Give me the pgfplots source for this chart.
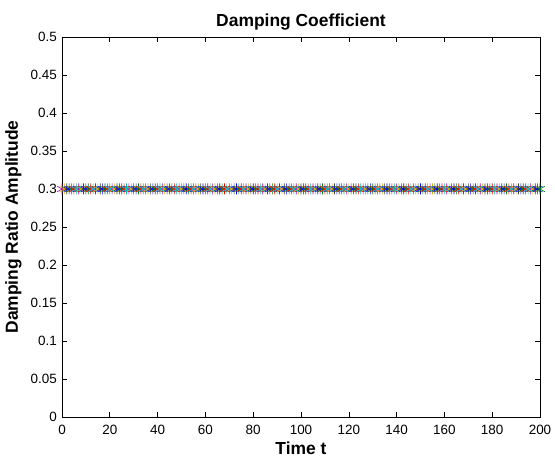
\documentclass[border=0pt]{standalone}
\usepackage{fontspec}
\setmainfont{Liberation Sans}
\usepackage{pgfplots}
\pgfplotsset{compat=1.18}

\definecolor{mb}{rgb}{0,0,1}
\definecolor{mg}{rgb}{0,0.5,0}
\definecolor{mr}{rgb}{1,0,0}
\definecolor{mc}{rgb}{0,0.75,0.75}
\definecolor{mm}{rgb}{0.75,0,0.75}
\definecolor{my}{rgb}{0.75,0.75,0}
\definecolor{mk}{rgb}{0.25,0.25,0.25}

\begin{document}
\begin{tikzpicture}
\useasboundingbox (-62bp,-42bp) rectangle (493bp,417bp);
\begin{axis}[
    scale only axis,
    width=478bp, height=380bp,
    xmin=0, xmax=200, ymin=0, ymax=0.5,
    xtick={0,20,...,200},
    ytick={0,0.05,...,0.5},
    yticklabels={0,0.05,0.1,0.15,0.2,0.25,0.3,0.35,0.4,0.45,0.5},
    tick align=inside, tick pos=both,
    major tick length=5bp,
    axis line style={line width=0.6bp},
    every tick/.style={black, line width=0.6bp},
    font=\fontsize{13.5}{16}\selectfont,
    /pgf/number format/assume math mode=true,
    xticklabel style={anchor=north, inner sep=0pt, yshift=-8bp},
    yticklabel style={anchor=east, inner sep=0pt, xshift=-5bp},
    every axis title/.style={at={(axis description cs:0.5,1)}, anchor=base, yshift=10bp, font=\fontsize{17.5}{20}\selectfont\bfseries},
    every axis x label/.style={at={(axis description cs:0.5,0)}, anchor=base, inner sep=0pt, yshift=-37bp, font=\fontsize{17.5}{20}\selectfont\bfseries},
    every axis y label/.style={at={(axis description cs:0,0.5)}, xshift=-44bp, rotate=90, anchor=base, font=\fontsize{17.5}{20}\selectfont\bfseries},
    title={Damping Coefficient},
    xlabel={Time t},
    ylabel={Damping Ratio Amplitude},
    clip=false,
    every axis plot/.append style={only marks, mark=asterisk, mark size=5.5bp, line width=0.6bp},
]
\addplot[mm] coordinates {(0,0.3) (7,0.3) (14,0.3) (21,0.3) (28,0.3) (35,0.3) (42,0.3) (49,0.3) (56,0.3) (63,0.3) (70,0.3) (77,0.3) (84,0.3) (91,0.3) (98,0.3) (105,0.3) (112,0.3) (119,0.3) (126,0.3) (133,0.3) (140,0.3) (147,0.3) (154,0.3) (161,0.3) (168,0.3) (175,0.3) (182,0.3) (189,0.3) (196,0.3)};
\addplot[my] coordinates {(1,0.3) (8,0.3) (15,0.3) (22,0.3) (29,0.3) (36,0.3) (43,0.3) (50,0.3) (57,0.3) (64,0.3) (71,0.3) (78,0.3) (85,0.3) (92,0.3) (99,0.3) (106,0.3) (113,0.3) (120,0.3) (127,0.3) (134,0.3) (141,0.3) (148,0.3) (155,0.3) (162,0.3) (169,0.3) (176,0.3) (183,0.3) (190,0.3) (197,0.3)};
\addplot[mk] coordinates {(2,0.3) (9,0.3) (16,0.3) (23,0.3) (30,0.3) (37,0.3) (44,0.3) (51,0.3) (58,0.3) (65,0.3) (72,0.3) (79,0.3) (86,0.3) (93,0.3) (100,0.3) (107,0.3) (114,0.3) (121,0.3) (128,0.3) (135,0.3) (142,0.3) (149,0.3) (156,0.3) (163,0.3) (170,0.3) (177,0.3) (184,0.3) (191,0.3) (198,0.3)};
\addplot[mb] coordinates {(3,0.3) (10,0.3) (17,0.3) (24,0.3) (31,0.3) (38,0.3) (45,0.3) (52,0.3) (59,0.3) (66,0.3) (73,0.3) (80,0.3) (87,0.3) (94,0.3) (101,0.3) (108,0.3) (115,0.3) (122,0.3) (129,0.3) (136,0.3) (143,0.3) (150,0.3) (157,0.3) (164,0.3) (171,0.3) (178,0.3) (185,0.3) (192,0.3) (199,0.3)};
\addplot[mg] coordinates {(4,0.3) (11,0.3) (18,0.3) (25,0.3) (32,0.3) (39,0.3) (46,0.3) (53,0.3) (60,0.3) (67,0.3) (74,0.3) (81,0.3) (88,0.3) (95,0.3) (102,0.3) (109,0.3) (116,0.3) (123,0.3) (130,0.3) (137,0.3) (144,0.3) (151,0.3) (158,0.3) (165,0.3) (172,0.3) (179,0.3) (186,0.3) (193,0.3) (200,0.3)};
\addplot[mr] coordinates {(5,0.3) (12,0.3) (19,0.3) (26,0.3) (33,0.3) (40,0.3) (47,0.3) (54,0.3) (61,0.3) (68,0.3) (75,0.3) (82,0.3) (89,0.3) (96,0.3) (103,0.3) (110,0.3) (117,0.3) (124,0.3) (131,0.3) (138,0.3) (145,0.3) (152,0.3) (159,0.3) (166,0.3) (173,0.3) (180,0.3) (187,0.3) (194,0.3)};
\addplot[mc] coordinates {(6,0.3) (13,0.3) (20,0.3) (27,0.3) (34,0.3) (41,0.3) (48,0.3) (55,0.3) (62,0.3) (69,0.3) (76,0.3) (83,0.3) (90,0.3) (97,0.3) (104,0.3) (111,0.3) (118,0.3) (125,0.3) (132,0.3) (139,0.3) (146,0.3) (153,0.3) (160,0.3) (167,0.3) (174,0.3) (181,0.3) (188,0.3) (195,0.3)};
\end{axis}
\end{tikzpicture}
\end{document}
